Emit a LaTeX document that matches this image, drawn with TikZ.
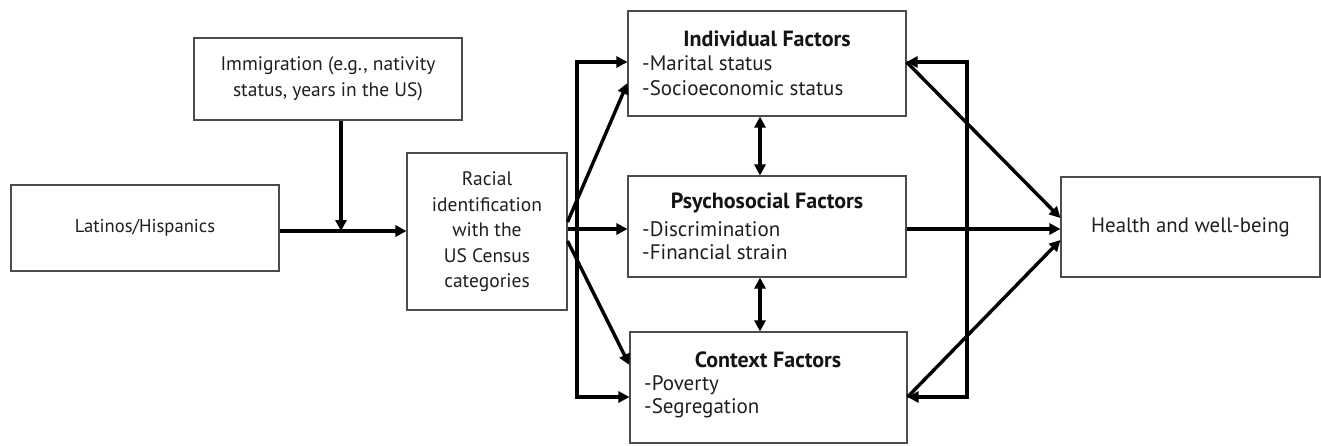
\documentclass[tikz,border=0pt]{standalone}
\usepackage{fontspec}
\setmainfont{PT Sans}
\usetikzlibrary{arrows.meta,calc}
\begin{document}
\begin{tikzpicture}[x=1pt,y=-1pt,
  box/.style={draw=black!70,line width=1.1pt,rectangle,inner sep=0pt},
  lbl/.style={inner sep=0pt,text=black!88,font=\fontsize{19.5}{26}\selectfont,align=center},
  item/.style={inner sep=0pt,text=black!88,font=\fontsize{21}{25}\selectfont,anchor=west},
  ttl/.style={inner sep=0pt,text=black!92,font=\fontsize{22}{25}\selectfont\bfseries},
  conn/.style={line width=3.4pt,-{Triangle[length=11pt,width=11pt]}},
  dconn/.style={line width=3.4pt,{Triangle[length=11pt,width=11pt]}-{Triangle[length=11pt,width=11pt]}}]
\useasboundingbox (0,0) rectangle (1321,445);
\fill[white] (0,0) rectangle (1321,445);
% boxes
\node[box,minimum width=268pt,minimum height=86pt] (lat) at (145,228) {};
\node[box,minimum width=268pt,minimum height=82pt] (imm) at (328,79) {};
\node[box,minimum width=160pt,minimum height=157pt] (rac) at (487,231.5) {};
\node[box,minimum width=278pt,minimum height=105pt] (ind) at (767,63.5) {};
\node[box,minimum width=278pt,minimum height=101pt] (psy) at (767,226.5) {};
\node[box,minimum width=277pt,minimum height=111pt] (con) at (768.5,387.5) {};
\node[box,minimum width=259pt,minimum height=100pt] (hea) at (1190.5,227) {};
% texts
\node[lbl,font=\fontsize{18.6}{26}\selectfont] (latT) at (145,228) {Latinos/Hispanics};
\node[lbl] (immT) at (328,79) {Immigration (e.g., nativity\\status, years in the US)};
\node[lbl,font=\fontsize{19.5}{25.5}\selectfont] (racT) at (487,232) {Racial\\identification\\with the\\US Census\\categories};
\node[lbl,font=\fontsize{20.8}{26}\selectfont] (heaT) at (1190.5,227) {Health and well-being};
\node[ttl] (indT) at (767,39) {Individual Factors};
\node[item] (ind1) at (642,63) {-Marital status};
\node[item] (ind2) at (642,88) {-Socioeconomic status};
\node[ttl] (psyT) at (767,203) {Psychosocial Factors};
\node[item] (psy1) at (642,229) {-Discrimination};
\node[item] (psy2) at (642,252) {-Financial strain};
\node[ttl] (conT) at (768,360) {Context Factors};
\node[item] (con1) at (644,385) {-Poverty};
\node[item] (con2) at (644,408) {-Segregation};
% coordinates
\coordinate (j) at (341,231);
\coordinate (lt) at (577,62);
\coordinate (lb) at (577,397);
\coordinate (rt) at (967,62);
\coordinate (rb) at (967,397);
\coordinate (mx) at (760,0);
% connectors
\draw[conn] (lat.east |- j) -- (rac.west |- j);
\draw[conn] (imm.south -| j) -- (j);
\draw[conn] (rac.east |- 0,229) -- (psy.west |- 0,229);
\draw[dconn] (ind.west |- lt) -- (lt) -- (lb) -- (con.west |- lb);
\draw[conn] (rac.east |- 0,222) -- (ind.west |- 0,83);
\draw[conn] (rac.east |- 0,241) -- (con.west |- 0,365);
\draw[dconn] (ind.south -| mx) -- (psy.north -| mx);
\draw[dconn] (psy.south -| mx) -- (con.north -| mx);
\draw[dconn] (ind.east |- rt) -- (rt) -- (rb) -- (con.east |- rb);
\draw[conn] (ind.east |- rt) -- (hea.west |- 0,218);
\draw[conn] (psy.east |- 0,229) -- (hea.west |- 0,229);
\draw[conn] (con.east |- rb) -- (hea.west |- 0,240);
\end{tikzpicture}
\end{document}
